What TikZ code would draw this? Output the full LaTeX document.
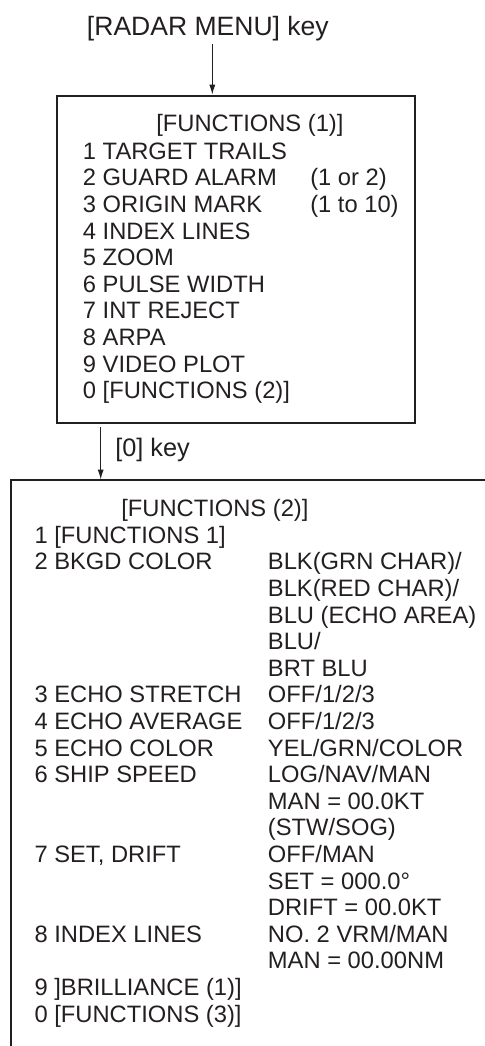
\documentclass[tikz,border=0pt]{standalone}
\usepackage{fontspec}
\setmainfont{Liberation Sans}
\usetikzlibrary{arrows.meta,fit}
\definecolor{ink}{RGB}{35,31,32}
\begin{document}
\begin{tikzpicture}[x=0.75pt,y=-0.75pt,
  txt/.style={anchor=base west, inner sep=0pt, text=ink, font=\fontsize{17.8}{20}\selectfont},
  hdr/.style={anchor=base west, inner sep=0pt, text=ink, font=\fontsize{19.9}{22}\selectfont},
  keytxt/.style={anchor=base west, inner sep=0pt, text=ink, font=\fontsize{19}{22}\selectfont},
  frame/.style={draw=ink, line width=1.6pt},
  conn/.style={draw=ink, line width=0.8pt, -{Latex[length=7.5pt,width=4.6pt]}}]
\useasboundingbox (0,0) rectangle (485,1046);

% header
\node[hdr] (radar) at (86.7,35) {[RADAR MENU] key};
\coordinate (a1s) at (212.3,44);

% box 1
\node[frame, fit={(56.7,95.7) (415,423.3)}, inner sep=0pt] (b1) {};
\node[txt] (f1title) at (156,131.7) {[FUNCTIONS (1)]};
\foreach \t [count=\i from 0] in {1 TARGET TRAILS,2 GUARD ALARM,3 ORIGIN MARK,4 INDEX LINES,5 ZOOM,6 PULSE WIDTH,7 INT REJECT,8 ARPA,9 VIDEO PLOT,0 [FUNCTIONS (2)]}
  \node[txt] (f1l\i) at (82.7,159.3+26.6*\i) {\t};
\node[txt] (f1o2) at (310,185.9) {(1 or 2)};
\node[txt] (f1o3) at (310,212.5) {(1 to 10)};

\draw[conn] (a1s) -- (a1s |- b1.north);

% arrow to box 2
\coordinate (a2s) at (100.7,427);
\coordinate (b2top) at (100.7,479.5);
\node[keytxt] (zerokey) at (115,456.7) {[0] key};

% box 2 (open at right and bottom)
\draw[frame] (495,480) -- (11,480) -- (11,1056);
\draw[conn] (a2s) -- (b2top);

\node[txt] (f2title) at (121,516.7) {[FUNCTIONS (2)]};
\node[txt] (f2l0) at (34.3,543.3) {1 [FUNCTIONS 1]};
\node[txt] (f2l1) at (34.3,569.9) {2 BKGD COLOR};
\node[txt] (f2l6) at (34.3,702.9) {3 ECHO STRETCH};
\node[txt] (f2l7) at (34.3,729.5) {4 ECHO AVERAGE};
\node[txt] (f2l8) at (34.3,756.1) {5 ECHO COLOR};
\node[txt] (f2l9) at (34.3,782.7) {6 SHIP SPEED};
\node[txt] (f2l12) at (34.3,862.5) {7 SET, DRIFT};
\node[txt] (f2l15) at (34.3,942.3) {8 INDEX LINES};
\node[txt] (f2l17) at (34.3,995.5) {9 ]BRILLIANCE (1)]};
\node[txt] (f2l18) at (34.3,1022.1) {0 [FUNCTIONS (3)]};

\node[txt] (f2r1) at (267.7,569.9) {BLK(GRN CHAR)/};
\node[txt] (f2r2) at (267.7,596.5) {BLK(RED CHAR)/};
\node[txt] (f2r3) at (267.7,623.1) {BLU (ECHO AREA)};
\node[txt] (f2r4) at (267.7,649.7) {BLU/};
\node[txt] (f2r5) at (267.7,676.3) {BRT BLU};
\node[txt] (f2r6) at (267.7,702.9) {OFF/1/2/3};
\node[txt] (f2r7) at (267.7,729.5) {OFF/1/2/3};
\node[txt] (f2r8) at (267.7,756.1) {YEL/GRN/COLOR};
\node[txt] (f2r9) at (267.7,782.7) {LOG/NAV/MAN};
\node[txt] (f2r10) at (267.7,809.3) {MAN = 00.0KT};
\node[txt] (f2r11) at (267.7,835.9) {(STW/SOG)};
\node[txt] (f2r12) at (267.7,862.5) {OFF/MAN};
\node[txt] (f2r13) at (267.7,889.1) {SET = 000.0°};
\node[txt] (f2r14) at (267.7,915.7) {DRIFT = 00.0KT};
\node[txt] (f2r15) at (267.7,942.3) {NO. 2 VRM/MAN};
\node[txt] (f2r16) at (267.7,968.9) {MAN = 00.00NM};
\end{tikzpicture}
\end{document}
